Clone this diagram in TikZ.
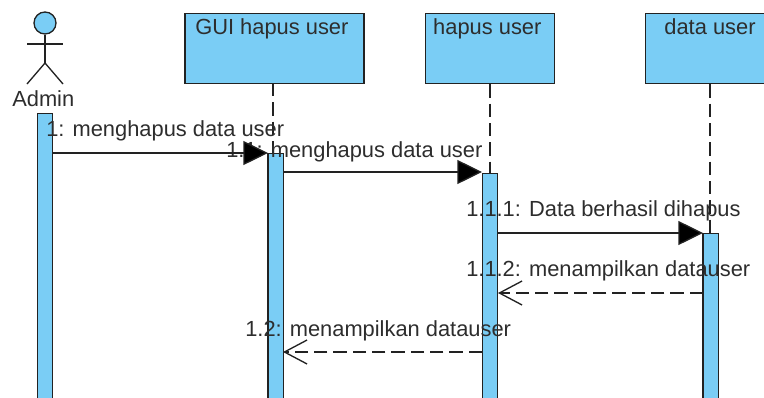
\documentclass[tikz,border=0pt]{standalone}
\usepackage{fontspec}
\setmainfont{Liberation Sans}
\usetikzlibrary{arrows.meta}
\definecolor{umlblue}{RGB}{122,205,245}
\definecolor{umlline}{RGB}{34,34,34}
\definecolor{umltext}{RGB}{45,45,45}
\begin{document}
\begin{tikzpicture}[x=0.75pt, y=-0.75pt, font=\fontsize{16.4}{20}\selectfont,
    classbox/.style={rectangle, draw=umlline, fill=umlblue, line width=1pt, text=umltext, minimum height=52.5pt, inner sep=0pt, text height=14.4pt, text depth=35.6pt, anchor=north},
    activebar/.style={rectangle, draw=umlline, fill=umlblue, line width=1pt, minimum width=11.5pt, minimum height=240pt, inner sep=0pt, anchor=north},
    msglabel/.style={anchor=base west, inner sep=0pt, text=umltext},
    lifeline/.style={draw=umlline, line width=1pt, dash pattern=on 10pt off 4.5pt},
    callmsg/.style={draw=umlline, line width=1pt, -{Triangle[length=18.5pt, width=18pt, fill=black]}},
    backmsg/.style={draw=umlline, line width=1pt, dash pattern=on 10pt off 4.5pt, -{Straight Barb[length=17pt, width=18pt, line width=1pt]}}]
  \useasboundingbox (0,0) rectangle (764,397);

  \node[classbox, minimum width=134.25pt] (guibox) at (274.5,13) {\hspace*{-4pt}GUI hapus user};
  \node[classbox, minimum width=97pt] (hapusbox) at (490,13) {\hspace*{-4pt}hapus user};
  \node[classbox, minimum width=97pt] (databox) at (710,13) {data user};

  \coordinate (guitop) at (273,83);
  \coordinate (guibot) at (273,153);
  \draw[lifeline] (guitop)--(guibot);
  \coordinate (hapusbot) at (490,173);
  \draw[lifeline] (hapusbox.south)--(hapusbot);
  \coordinate (databot) at (710,233);
  \draw[lifeline] (databox.south)--(databot);

  % actor
  \node[circle, draw=umlline, fill=umlblue, line width=1pt, minimum size=16.5pt, inner sep=0pt] (head) at (45,23) {};
  \coordinate (hip) at (45,63);
  \coordinate (armL) at (27,44);
  \coordinate (armR) at (63,44);
  \coordinate (footL) at (27,84);
  \coordinate (footR) at (63,84);
  \draw[draw=umlline, line width=1pt] (head)--(hip);
  \draw[draw=umlline, line width=1pt] (armL)--(armR);
  \draw[draw=umlline, line width=1pt] (footL)--(hip)--(footR);
  \node[msglabel] (admin) at (12,106) {Admin};

  \node[activebar] (adminbar) at (45,113) {};
  \node[activebar] (guibar) at (275.5,153) {};
  \node[activebar] (hapusbar) at (490,173) {};
  \node[activebar] (databar) at (710.5,233) {};

  \node[msglabel] (m1) at (46,136) {1: menghapus data user};
  \node[msglabel] (m2) at (226,157) {1.1: menghapus data user};
  \node[msglabel] (m3) at (466,216) {1.1.1: Data berhasil dihapus};
  \node[msglabel] (m4) at (466,276) {1.1.2: menampilkan datauser};
  \node[msglabel] (m5) at (245,336) {1.2: menampilkan datauser};

  \coordinate (m1a) at (53,153);
  \coordinate (m1b) at (268,153);
  \coordinate (m2a) at (283,172);
  \coordinate (m2b) at (482,172);
  \coordinate (m3a) at (498,233);
  \coordinate (m3b) at (703,233);
  \coordinate (m4a) at (703,293);
  \coordinate (m4b) at (498,293);
  \coordinate (m5a) at (482,352);
  \coordinate (m5b) at (283,352);
  \draw[callmsg] (m1a)--(m1b);
  \draw[callmsg] (m2a)--(m2b);
  \draw[callmsg] (m3a)--(m3b);
  \draw[backmsg] (m4a)--(m4b);
  \draw[backmsg] (m5a)--(m5b);
\end{tikzpicture}
\end{document}
